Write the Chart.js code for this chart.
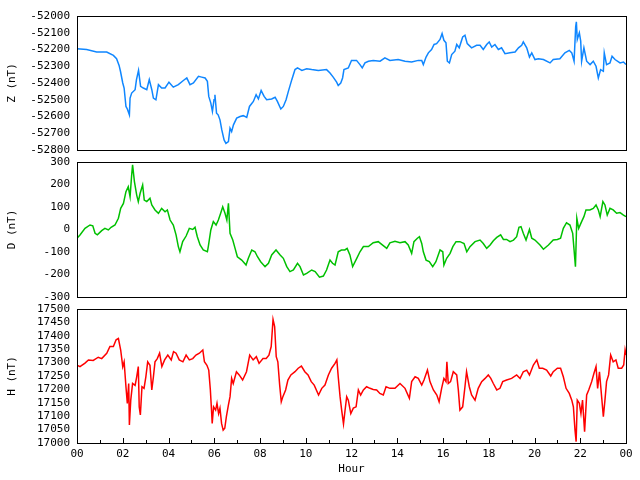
<!DOCTYPE html>
<html>
<head>
<meta charset="utf-8">
<script src="https://cdn.jsdelivr.net/npm/chart.js@4.4.1/dist/chart.umd.min.js"></script>
<style>
html, body { margin: 0; padding: 0; background: #fff; }
#wrap { position: relative; width: 640px; height: 480px; }
#wrap canvas { position: absolute; left: 0; top: 0; }
</style>
</head>
<body>
<div id="wrap">
  <canvas id="zChart" width="640" height="480"></canvas>
  <canvas id="dChart" width="640" height="480"></canvas>
  <canvas id="hChart" width="640" height="480"></canvas>
</div>
<script>
// Z component (nT)
var zHours = [
  0, 0.42, 0.86, 1.3, 1.59, 1.73, 1.84, 1.9, 2.0, 2.06,
  2.14, 2.2, 2.29, 2.32, 2.39, 2.54, 2.6, 2.69, 2.78, 2.9,
  3.05, 3.16, 3.27, 3.34, 3.45, 3.56, 3.7, 3.85, 4.02, 4.21,
  4.43, 4.65, 4.8, 4.94, 5.09, 5.31, 5.45, 5.6, 5.7, 5.76,
  5.85, 5.92, 5.99, 6.03, 6.1, 6.17, 6.25, 6.33, 6.43, 6.51,
  6.62, 6.69, 6.76, 6.84, 6.98, 7.13, 7.27, 7.42, 7.54, 7.71,
  7.83, 7.93, 8.05, 8.18, 8.29, 8.51, 8.66, 8.76, 8.91, 9.02,
  9.14, 9.24, 9.39, 9.53, 9.64, 9.83, 10.04, 10.26, 10.55, 10.91,
  11.06, 11.2, 11.35, 11.42, 11.53, 11.61, 11.67, 11.86, 12.0, 12.22,
  12.37, 12.47, 12.59, 12.74, 12.95, 13.25, 13.46, 13.68, 14.04, 14.34,
  14.63, 14.92, 15.07, 15.14, 15.26, 15.36, 15.5, 15.61, 15.72, 15.87,
  15.96, 16.04, 16.13, 16.19, 16.28, 16.38, 16.52, 16.6, 16.71, 16.86,
  16.96, 17.06, 17.25, 17.47, 17.62, 17.76, 17.91, 18.02, 18.13, 18.27,
  18.42, 18.56, 18.71, 18.93, 19.15, 19.3, 19.44, 19.51, 19.66, 19.78,
  19.88, 20.02, 20.17, 20.39, 20.68, 20.82, 21.11, 21.33, 21.52, 21.63,
  21.73, 21.8, 21.83, 21.87, 21.96, 22.02, 22.06, 22.16, 22.28, 22.43,
  22.57, 22.69, 22.79, 22.89, 23.01, 23.05, 23.15, 23.3, 23.39, 23.52,
  23.74, 23.89, 24
];
var zValues = [
  -52195, -52200, -52215, -52215, -52235, -52255, -52295, -52330, -52400, -52430,
  -52540, -52555, -52590, -52490, -52460, -52440, -52380, -52325, -52420, -52430,
  -52440, -52380, -52440, -52490, -52500, -52410, -52430, -52430, -52395, -52425,
  -52410, -52385, -52370, -52410, -52400, -52360, -52365, -52370, -52390, -52480,
  -52520, -52570, -52500, -52470, -52580, -52590, -52620, -52680, -52740, -52760,
  -52750, -52670, -52690, -52650, -52610, -52600, -52595, -52605, -52540, -52510,
  -52470, -52495, -52445, -52480, -52500, -52495, -52485, -52510, -52555, -52540,
  -52500, -52450, -52380, -52320, -52310, -52325, -52315, -52320, -52325, -52320,
  -52340, -52365, -52395, -52415, -52400, -52370, -52320, -52310, -52265, -52265,
  -52290, -52310, -52280, -52270, -52265, -52270, -52250, -52265, -52260, -52270,
  -52275, -52265, -52265, -52290, -52245, -52220, -52200, -52170, -52165, -52140,
  -52105, -52145, -52160, -52270, -52280, -52230, -52210, -52170, -52190, -52125,
  -52115, -52165, -52190, -52175, -52175, -52200, -52170, -52155, -52185, -52170,
  -52200, -52190, -52225, -52220, -52215, -52190, -52175, -52155, -52190, -52245,
  -52220, -52260, -52255, -52260, -52280, -52260, -52255, -52220, -52205, -52220,
  -52270, -52065, -52035, -52140, -52100, -52150, -52270, -52190, -52270, -52290,
  -52270, -52300, -52370, -52320, -52330, -52220, -52290, -52280, -52240, -52260,
  -52280, -52275, -52290
];

// D component (nT)
var dHours = [
  0, 0.13, 0.35, 0.57, 0.69, 0.79, 0.89, 1.08, 1.22, 1.37,
  1.49, 1.66, 1.81, 1.91, 2.03, 2.14, 2.24, 2.32, 2.39, 2.43,
  2.51, 2.61, 2.68, 2.76, 2.87, 2.94, 3.05, 3.19, 3.27, 3.41,
  3.56, 3.7, 3.85, 3.95, 4.07, 4.21, 4.33, 4.43, 4.5, 4.62,
  4.77, 4.91, 5.06, 5.16, 5.26, 5.38, 5.52, 5.7, 5.74, 5.85,
  5.96, 6.08, 6.18, 6.28, 6.37, 6.47, 6.55, 6.62, 6.69, 6.81,
  6.91, 7.01, 7.2, 7.39, 7.49, 7.64, 7.78, 7.89, 8.03, 8.22,
  8.37, 8.51, 8.7, 8.88, 9.02, 9.17, 9.31, 9.46, 9.64, 9.75,
  9.9, 10.04, 10.26, 10.41, 10.6, 10.77, 10.91, 11.06, 11.17, 11.28,
  11.42, 11.56, 11.71, 11.81, 11.93, 12.05, 12.23, 12.37, 12.52, 12.74,
  12.95, 13.17, 13.32, 13.54, 13.68, 13.9, 14.12, 14.34, 14.48, 14.63,
  14.73, 14.88, 14.97, 15.07, 15.14, 15.26, 15.4, 15.55, 15.69, 15.87,
  15.99, 16.04, 16.16, 16.31, 16.43, 16.57, 16.74, 16.92, 17.04, 17.18,
  17.4, 17.62, 17.76, 17.91, 18.06, 18.2, 18.35, 18.52, 18.64, 18.78,
  18.93, 19.08, 19.22, 19.32, 19.41, 19.51, 19.63, 19.78, 19.88, 20.02,
  20.24, 20.39, 20.61, 20.82, 21.0, 21.14, 21.26, 21.4, 21.55, 21.67,
  21.73, 21.79, 21.85, 21.93, 22.06, 22.16, 22.25, 22.42, 22.57, 22.69,
  22.79, 22.87, 22.99, 23.08, 23.18, 23.3, 23.44, 23.59, 23.74, 23.89,
  24
];
var dValues = [
  -39, -24, 5, 20, 16, -17, -24, -5, 5, -2,
  10, 20, 50, 94, 116, 168, 190, 146, 242, 287,
  213, 153, 124, 161, 198, 131, 124, 139, 109, 87,
  72, 94, 79, 87, 42, 20, -24, -76, -99, -54,
  -29, 5, 0, 10, -32, -69, -91, -99, -76, -2,
  35, 20, 42, 72, 101, 72, 42, 116, -17, -47,
  -84, -121, -136, -158, -128, -91, -99, -121, -143, -165,
  -150, -113, -91, -113, -128, -165, -187, -180, -150, -165,
  -202, -195, -180, -187, -212, -207, -180, -136, -150, -158,
  -99, -91, -91, -84, -113, -165, -128, -99, -76, -76,
  -59, -54, -66, -84, -59, -52, -59, -54, -69, -106,
  -54, -39, -32, -62, -99, -136, -143, -165, -143, -91,
  -99, -158, -128, -106, -76, -54, -54, -62, -99, -76,
  -54, -47, -62, -84, -69, -50, -35, -24, -44, -44,
  -54, -47, -32, 10, 13, -17, -47, 0, -39, -47,
  -69, -88, -69, -47, -44, -39, 5, 30, 20, -17,
  -91, -165, 50, 5, 35, 57, 87, 87, 94, 109,
  87, 57, 124, 109, 64, 94, 87, 72, 75, 64,
  57
];

// H component (nT)
var hHours = [
  0, 0.13, 0.35, 0.5, 0.71, 0.93, 1.08, 1.3, 1.44, 1.59,
  1.71, 1.81, 1.91, 2.0, 2.06, 2.14, 2.2, 2.26, 2.29, 2.35,
  2.43, 2.54, 2.61, 2.68, 2.72, 2.77, 2.84, 2.93, 3.01, 3.09,
  3.19, 3.27, 3.34, 3.41, 3.51, 3.61, 3.71, 3.83, 3.97, 4.12,
  4.22, 4.33, 4.47, 4.63, 4.77, 4.91, 5.06, 5.2, 5.35, 5.5,
  5.57, 5.68, 5.76, 5.83, 5.88, 5.91, 5.97, 6.06, 6.12, 6.19,
  6.25, 6.32, 6.39, 6.46, 6.53, 6.62, 6.69, 6.76, 6.83, 6.97,
  7.09, 7.24, 7.41, 7.55, 7.7, 7.84, 7.96, 8.13, 8.27, 8.39,
  8.49, 8.57, 8.64, 8.71, 8.78, 8.86, 8.93, 9.0, 9.12, 9.22,
  9.35, 9.53, 9.67, 9.81, 9.96, 10.1, 10.24, 10.37, 10.56, 10.7,
  10.84, 10.99, 11.13, 11.28, 11.36, 11.42, 11.5, 11.57, 11.65, 11.72,
  11.79, 11.86, 11.97, 12.08, 12.2, 12.3, 12.4, 12.52, 12.66, 12.81,
  12.95, 13.1, 13.24, 13.39, 13.51, 13.68, 13.9, 14.12, 14.34, 14.53,
  14.63, 14.78, 14.92, 15.07, 15.17, 15.32, 15.43, 15.58, 15.73, 15.83,
  15.94, 16.04, 16.13, 16.17, 16.23, 16.33, 16.45, 16.6, 16.67, 16.74,
  16.86, 16.96, 17.03, 17.15, 17.25, 17.4, 17.54, 17.69, 17.84, 17.98,
  18.09, 18.2, 18.35, 18.49, 18.61, 18.78, 19.0, 19.22, 19.37, 19.51,
  19.66, 19.78, 19.95, 20.1, 20.21, 20.36, 20.53, 20.71, 20.82, 21.0,
  21.14, 21.26, 21.38, 21.52, 21.63, 21.7, 21.77, 21.82, 21.87, 21.96,
  22.03, 22.1, 22.19, 22.28, 22.37, 22.5, 22.6, 22.69, 22.76, 22.84,
  22.94, 23.01, 23.08, 23.15, 23.24, 23.33, 23.44, 23.56, 23.66, 23.81,
  23.9, 23.96, 24
];
var hValues = [
  17290, 17285, 17298, 17310, 17308, 17320, 17315, 17335, 17360, 17360,
  17385, 17390, 17347, 17285, 17303, 17210, 17148, 17222, 17067, 17160,
  17222, 17215, 17247, 17285, 17135, 17105, 17210, 17204, 17247, 17303,
  17290, 17198, 17247, 17303, 17315, 17335, 17285, 17310, 17328, 17310,
  17341, 17335, 17310, 17303, 17328, 17310, 17315, 17328, 17335, 17347,
  17303, 17290, 17272, 17198, 17123, 17073, 17135, 17123, 17148, 17110,
  17130, 17073, 17048, 17055, 17098, 17142, 17173, 17241, 17222, 17266,
  17254, 17235, 17266, 17328, 17310, 17322, 17297, 17315, 17315, 17328,
  17360, 17461, 17434, 17322, 17303, 17216, 17154, 17173, 17198, 17235,
  17254, 17266, 17279, 17287, 17266, 17254, 17229, 17216, 17179, 17204,
  17216, 17254, 17279, 17297, 17310, 17247, 17173, 17123, 17071, 17123,
  17173, 17160, 17110, 17130, 17135, 17198, 17179, 17198, 17210, 17204,
  17200, 17198, 17185, 17179, 17210, 17204, 17204, 17222, 17204, 17167,
  17229, 17247, 17241, 17216, 17235, 17272, 17229, 17198, 17179, 17154,
  17204, 17241, 17229, 17303, 17222, 17229, 17266, 17254, 17198, 17123,
  17135, 17210, 17266, 17210, 17179, 17160, 17204, 17229, 17241, 17254,
  17241, 17222, 17198, 17204, 17229, 17235, 17241, 17254, 17241, 17266,
  17272, 17254, 17291, 17310, 17279, 17279, 17272, 17250, 17266, 17279,
  17279, 17247, 17204, 17185, 17160, 17135, 17049, 17005, 17160, 17148,
  17110, 17160, 17042, 17179, 17198, 17229, 17260, 17285, 17204, 17266,
  17167, 17098, 17160, 17229, 17254, 17328, 17303, 17310, 17279, 17279,
  17291, 17347, 17328
];

var monoFont = { family: '"DejaVu Sans Mono", "Liberation Mono", monospace', size: 11 };
Chart.defaults.color = '#000';
Chart.defaults.font = monoFont;

// box round the plot area
var framePlugin = {
  id: 'frame',
  afterDraw: function(chart) {
    var a = chart.chartArea;
    var ctx = chart.ctx;
    ctx.save();
    ctx.strokeStyle = '#000';
    ctx.lineWidth = 1;
    ctx.strokeRect(Math.round(a.left) + 0.5, Math.round(a.top) + 0.5,
      Math.round(a.right - a.left), Math.round(a.bottom - a.top));
    ctx.restore();
  }
};

// inward hour ticks on the bottom axis
var hourTicks = {
  id: 'hourTicks',
  afterDraw: function(chart) {
    if (!chart.options.plugins.hourTicks.show) return;
    var xs = chart.scales.x;
    var a = chart.chartArea;
    var ctx = chart.ctx;
    ctx.save();
    ctx.strokeStyle = '#000';
    ctx.lineWidth = 1;
    ctx.beginPath();
    for (var h = 1; h < 24; h++) {
      var px = Math.round(xs.getPixelForValue(h)) + 0.5;
      var len = h % 2 ? 3 : 5;
      ctx.moveTo(px, Math.round(a.bottom));
      ctx.lineTo(px, Math.round(a.bottom) - len);
    }
    ctx.stroke();
    ctx.restore();
  }
};

function pad2(v) {
  var n = Math.round(v) % 24;
  return (n < 10 ? '0' : '') + n;
}

function makePanel(id, hours, values, color, title, yMin, yMax, yStep, padTop, padBottom, showX) {
  var points = hours.map(function(h, i) { return { x: h, y: values[i] }; });
  return new Chart(document.getElementById(id), {
    type: 'line',
    data: {
      datasets: [{
        data: points,
        borderColor: color,
        borderWidth: 1.5,
        pointRadius: 0,
        tension: 0,
        fill: false
      }]
    },
    options: {
      responsive: false,
      animation: false,
      events: [],
      layout: { padding: { top: padTop, bottom: padBottom, left: 0, right: 14 } },
      plugins: {
        legend: { display: false },
        tooltip: { enabled: false },
        hourTicks: { show: showX }
      },
      scales: {
        x: {
          type: 'linear',
          min: 0,
          max: 24,
          display: showX,
          grid: { display: false, drawTicks: false },
          border: { display: false },
          ticks: {
            stepSize: 2,
            autoSkip: false,
            maxRotation: 0,
            padding: 5,
            font: monoFont,
            callback: function(v) { return pad2(v); }
          },
          title: { display: true, text: 'Hour', font: monoFont, padding: { top: 0, bottom: 0 } },
          afterFit: function(s) { if (showX) s.height = 33; }
        },
        y: {
          position: 'left',
          min: yMin,
          max: yMax,
          grid: { display: false, drawTicks: false },
          border: { display: false },
          ticks: {
            stepSize: yStep,
            autoSkip: false,
            padding: 7,
            font: monoFont,
            callback: function(v) { return String(v); }
          },
          title: { display: true, text: title, font: monoFont, padding: { top: 6, bottom: 0 } },
          afterFit: function(s) { s.width = 77; }
        }
      }
    },
    plugins: [framePlugin, hourTicks]
  });
}

var zChart = makePanel('zChart', zHours, zValues, '#0f86ff', 'Z (nT)', -52800, -52000, 100, 16, 330, false);
var dChart = makePanel('dChart', dHours, dValues, '#00c000', 'D (nT)', -300, 300, 100, 162, 183, false);
var hChart = makePanel('hChart', hHours, hValues, '#ff0000', 'H (nT)', 17000, 17500, 50, 309, 4, true);
</script>
</body>
</html>
